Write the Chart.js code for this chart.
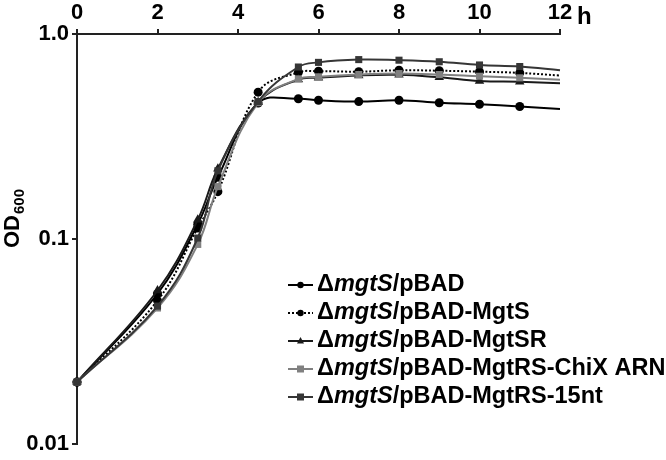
<!DOCTYPE html>
<html><head><meta charset="utf-8">
<script src="https://cdn.jsdelivr.net/npm/chart.js@4"></script>
<style>html,body{margin:0;padding:0;background:#fff}#wrap{width:666px;height:460px;position:relative}</style>
</head><body><div id="wrap"><canvas id="c" width="666" height="460"></canvas></div>
<script>
// ---- data ----
const timeH = [0, 2, 3, 3.5, 4.5, 5.5, 6, 7, 8, 9, 10, 11, 12];
const odPBAD      = [0.02, 0.054, 0.118, 0.200, 0.460, 0.483, 0.475, 0.468, 0.475, 0.462, 0.454, 0.443, 0.430];
const odMgtS      = [0.02, 0.050, 0.113, 0.170, 0.520, 0.650, 0.658, 0.655, 0.665, 0.662, 0.655, 0.646, 0.627];
const odMgtSR     = [0.02, 0.056, 0.124, 0.220, 0.465, 0.600, 0.612, 0.628, 0.632, 0.615, 0.590, 0.584, 0.575];
const odChiX      = [0.02, 0.046, 0.094, 0.180, 0.462, 0.604, 0.618, 0.634, 0.641, 0.634, 0.622, 0.611, 0.598];
const od15nt      = [0.02, 0.047, 0.101, 0.215, 0.468, 0.690, 0.727, 0.750, 0.745, 0.732, 0.706, 0.694, 0.665];
const seriesNames = ['pBAD', 'pBAD-MgtS', 'pBAD-MgtSR', 'pBAD-MgtRS-ChiX ARN', 'pBAD-MgtRS-15nt'];
const xTicks = [0, 2, 4, 6, 8, 10, 12];
const yTicks = [0.01, 0.1, 1.0];
const yTickLabels = ['0.01', '0.1', '1.0'];

const FONT = "'Liberation Sans', Arial, Helvetica, sans-serif";
const styles = [
  {color:'#000000', point:'circle', r:4.5, dash:[]},
  {color:'#000000', point:'circle', r:4.5, dash:[2,2]},
  {color:'#1a1a1a', point:'triangle', r:5.5, dash:[]},
  {color:'#808080', point:'rect', r:5, dash:[]},
  {color:'#363636', point:'rect', r:5, dash:[]}
];
const allSeries = [odPBAD, odMgtS, odMgtSR, odChiX, od15nt];

const datasets = allSeries.map((vals, i) => ({
  label: seriesNames[i],
  data: timeH.map((t, k) => ({x: t, y: vals[k]})),
  borderColor: styles[i].color,
  backgroundColor: styles[i].color,
  borderWidth: 2,
  borderDash: styles[i].dash,
  pointStyle: styles[i].point,
  pointRadius: ctx => ctx.dataIndex === timeH.length - 1 ? 0 : styles[i].r,
  pointBorderWidth: 0,
  tension: 0.4,
  clip: false
})).reverse();

const extras = {
  id: 'extras',
  afterDraw(chart) {
    const ctx = chart.ctx;
    ctx.save();
    ctx.fillStyle = '#000';
    ctx.font = 'bold 24px ' + FONT;
    ctx.textAlign = 'left';
    ctx.textBaseline = 'alphabetic';
    ctx.fillText('h', 577, 24);
    ctx.save();
    ctx.translate(19, 248);
    ctx.rotate(-Math.PI / 2);
    ctx.font = 'bold 22px ' + FONT;
    ctx.fillText('OD', 0, 0);
    const w = ctx.measureText('OD').width;
    ctx.font = 'bold 15px ' + FONT;
    ctx.fillText('600', w + 1, 5);
    ctx.restore();
    const rows = [285, 313, 341, 369, 397];
    for (let i = 0; i < 5; i++) {
      const y = rows[i], s = styles[i];
      ctx.strokeStyle = s.color; ctx.fillStyle = s.color;
      ctx.lineWidth = 2; ctx.setLineDash(s.dash);
      ctx.beginPath(); ctx.moveTo(288, y); ctx.lineTo(313, y); ctx.stroke();
      ctx.setLineDash([]);
      const cx = 300.5;
      if (s.point === 'circle') { ctx.beginPath(); ctx.arc(cx, y, 3.2, 0, Math.PI*2); ctx.fill(); }
      else if (s.point === 'triangle') { ctx.beginPath(); ctx.moveTo(cx, y-4); ctx.lineTo(cx+3.5, y+2.5); ctx.lineTo(cx-3.5, y+2.5); ctx.closePath(); ctx.fill(); }
      else { ctx.fillRect(cx-3.5, y-3.5, 7, 7); }
      ctx.fillStyle = '#000';
      ctx.textBaseline = 'middle';
      let x = 317;
      ctx.font = 'bold 23.5px ' + FONT;
      ctx.fillText('Δ', x, y); x += ctx.measureText('Δ').width;
      ctx.font = 'italic bold 23.5px ' + FONT;
      ctx.fillText('mgtS', x, y); x += ctx.measureText('mgtS').width;
      ctx.font = 'bold 23.5px ' + FONT;
      ctx.fillText('/' + seriesNames[i], x, y);
    }
    ctx.restore();
  }
};

new Chart(document.getElementById('c'), {
  type: 'line',
  data: {datasets},
  options: {
    responsive: false,
    animation: false,
    devicePixelRatio: 1,
    layout: {padding: {left: 0, right: 106, top: 0, bottom: 12}},
    plugins: {legend: {display: false}, tooltip: {enabled: false}},
    scales: {
      x: {
        type: 'linear', position: 'top', min: 0, max: 12,
        afterBuildTicks(s) { s.ticks = xTicks.map(v => ({value: v})); },
        ticks: {color: '#000', font: {family: FONT, size: 22, weight: 'bold'}, padding: 3, maxRotation: 0},
        grid: {drawOnChartArea: false, tickLength: 5, color: '#222', lineWidth: 2},
        border: {color: '#222', width: 2},
        afterFit(s) { s.height = 34; }
      },
      y: {
        type: 'logarithmic', min: 0.01, max: 1,
        afterBuildTicks(s) { s.ticks = yTicks.map(v => ({value: v})); },
        ticks: {color: '#000', font: {family: FONT, size: 22, weight: 'bold'}, padding: 3,
          callback: (v, i) => yTickLabels[i]},
        grid: {drawOnChartArea: false, tickLength: 5, color: '#222', lineWidth: 2},
        border: {color: '#222', width: 2},
        afterFit(s) { s.width = 77; }
      }
    }
  },
  plugins: [extras]
});
</script>
</body></html>
